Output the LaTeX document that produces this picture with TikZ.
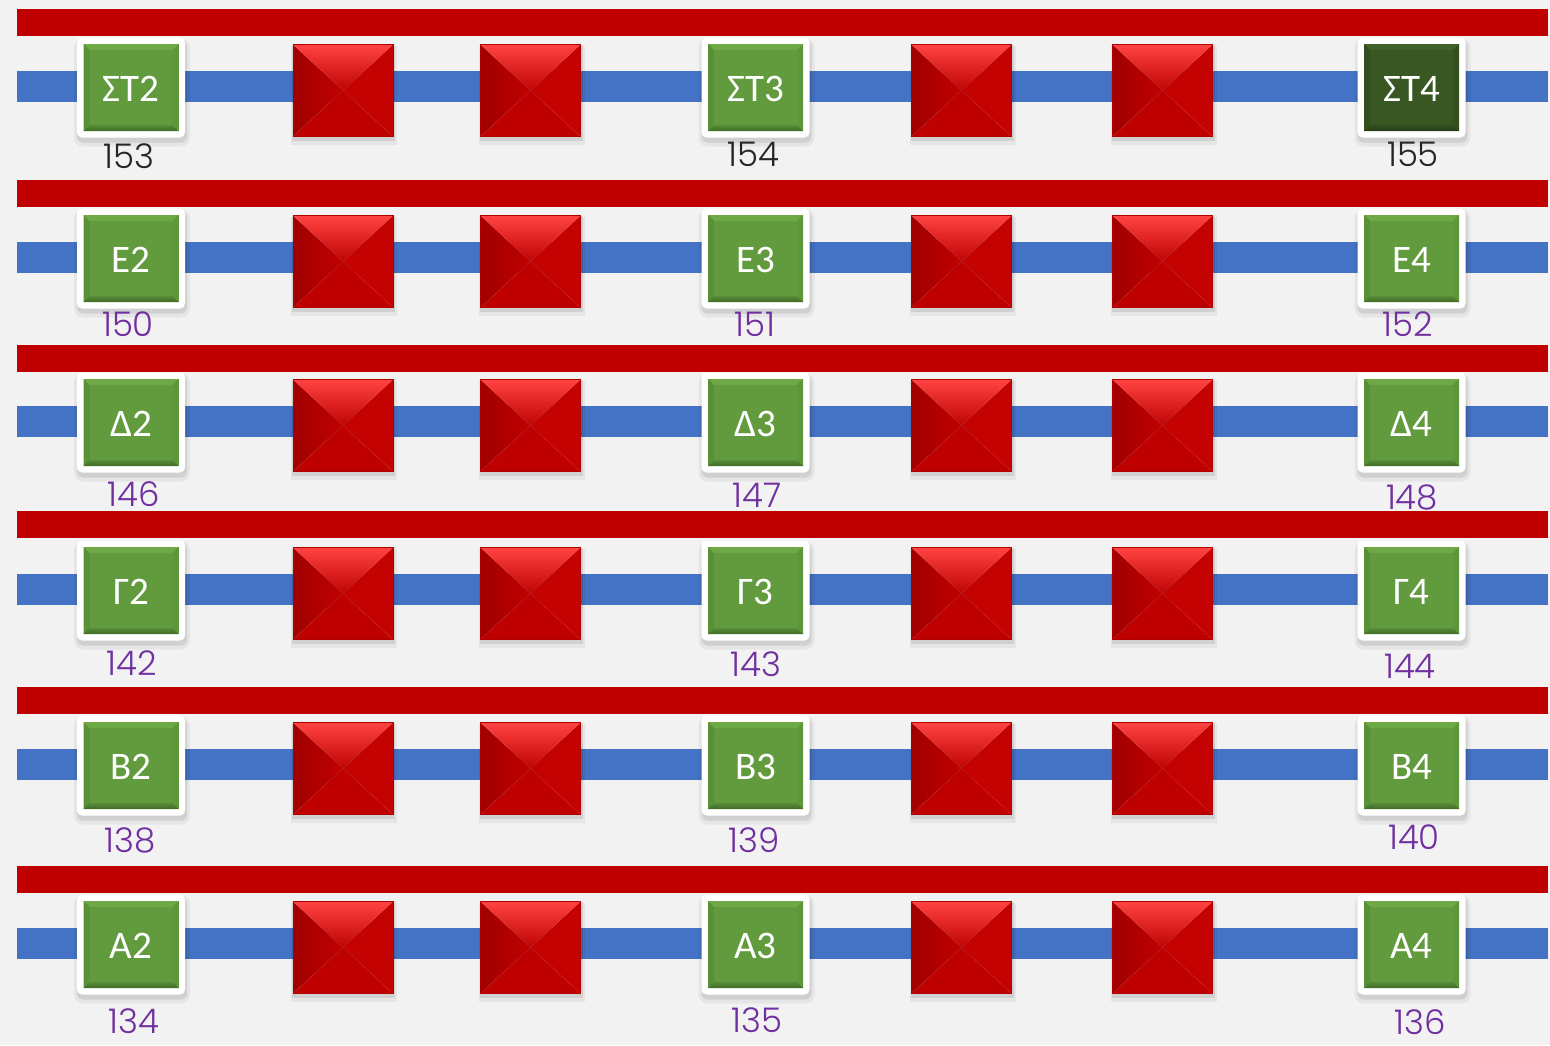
\documentclass[tikz,border=0pt]{standalone}
\usepackage{fontspec}
\setmainfont{Carlito}
\newfontfamily\numfont{Poppins Light}
\definecolor{bg}{HTML}{F2F2F2}
\definecolor{redbar}{HTML}{C00000}
\definecolor{bluebar}{HTML}{4472C4}
\definecolor{labA}{HTML}{262626}
\definecolor{labB}{HTML}{7030A0}
% green box bevel colours
\definecolor{gmain}{HTML}{629B3E}
\definecolor{gtop}{HTML}{6DAA45}
\definecolor{gleft}{HTML}{5A9138}
\definecolor{gright}{HTML}{5E963A}
\definecolor{gbot}{HTML}{3F6A27}
% dark green box
\definecolor{dmain}{HTML}{385723}
\definecolor{dtop}{HTML}{416329}
\definecolor{dleft}{HTML}{324F1F}
\definecolor{dright}{HTML}{354F20}
\definecolor{dbot}{HTML}{253B17}
% red squares
\definecolor{rtop1}{HTML}{FF4242}
\definecolor{rtopm}{HTML}{CA1414}
\definecolor{rtop2}{HTML}{BF0404}
\definecolor{rleft1}{HTML}{A00000}
\definecolor{rleftm}{HTML}{B90000}
\definecolor{rleft2}{HTML}{C10000}
\definecolor{rright}{HTML}{C40202}
\definecolor{rbot}{HTML}{BF0000}
\definecolor{rline}{HTML}{B00000}
\tikzset{
  boxtext/.style={text=white,font=\fontsize{39}{47}\selectfont,anchor=base,inner sep=0pt},
  numtext/.style={font=\numfont\fontsize{34}{40}\selectfont,anchor=base,inner sep=0pt},
  whitebox/.style={fill=white,rounded corners=5pt,minimum width=108pt,minimum height=100pt,inner sep=0pt}
}
% green box: name, x, y, text, colour prefix
\newcommand\gbox[5]{%
 \begin{scope}[shift={(#2,#3)}]
  \fill[black,opacity=0.05,rounded corners=9pt] (-57,-49) rectangle (59,59);
  \fill[black,opacity=0.09,rounded corners=6pt] (-54,-47) rectangle (56,55);
  \node[whitebox] (#1) at (0,0) {};
  \fill[#5main] (-47.5,-43.5) rectangle (47.5,43.5);
  \fill[#5top] (-47.5,-43.5) -- (47.5,-43.5) -- (41.5,-37.5) -- (-41.5,-37.5) -- cycle;
  \fill[#5left] (-47.5,-43.5) -- (-41.5,-37.5) -- (-41.5,37.5) -- (-47.5,43.5) -- cycle;
  \fill[#5right] (47.5,-43.5) -- (41.5,-37.5) -- (41.5,37.5) -- (47.5,43.5) -- cycle;
  \shade[top color=#5main!70!#5bot,bottom color=#5bot] (-47.5,43.5) -- (47.5,43.5) -- (41.5,37.5) -- (-41.5,37.5) -- cycle;
  \node[boxtext] (#1t) at (0,13.5) {#4};
 \end{scope}}
% red square: name, x, y
\newcommand\rsq[3]{%
 \begin{scope}[shift={(#2,#3)}]
  \fill[black,opacity=0.05] (-52,-45) rectangle (54,54);
  \fill[black,opacity=0.09] (-51,-46) rectangle (52,50);
  \node[minimum width=100pt,minimum height=92pt,inner sep=0pt] (#1) at (0,0) {};
  \fill[rbot] (-50,46) -- (50,46) -- (0,0) -- cycle;
  \fill[rright] (50,-46) -- (50,46) -- (0,0) -- cycle;
  \shade[left color=rleft1,middle color=rleftm,right color=rleft2] (-50,-46) -- (-50,46) -- (0,0) -- cycle;
  \shade[top color=rtop1,middle color=rtopm,bottom color=rtop2] (-50,-46) -- (50,-46) -- (0,0) -- cycle;
  \draw[white,opacity=0.06,line width=0.8pt] (-50,-46) -- (0,0) -- (50,-46) (-50,46) -- (0,0) -- (50,46);
  \draw[rline,line width=0.6pt] (-50,-46) rectangle (50,46);
 \end{scope}}
\begin{document}
\begin{tikzpicture}[x=1pt,y=-1pt]
\fill[bg] (0,0) rectangle (1550,1045);
\useasboundingbox (0,0) rectangle (1550,1045);
\foreach \rt/\bc/\L/\la/\lb/\lc/\ya/\yb/\yc/\xa/\xb/\xc/\lcol/\cc [count=\r] in {
  9/86/ΣΤ/153/154/155/168/166/166/129/753/1413/labA/d,
  180/257/Ε/150/151/152/336/336/336/128/755/1408/labB/g,
  345/421/Δ/146/147/148/506/507/509/134/757/1412/labB/g,
  511/589/Γ/142/143/144/675/676/678/132/756/1410/labB/g,
  687/764/Β/138/139/140/852/852/849/130/754/1414/labB/g,
  866/943/Α/134/135/136/1033/1032/1034/134/757/1420/labB/g}{
  \fill[redbar] (17,\rt) rectangle (1548,\rt+26.5);
  \fill[bluebar] (17,\bc-15) rectangle (1548,\bc+15.5);
  \gbox{b\r a}{131}{\bc+1.5}{\L2}{g}
  \gbox{b\r b}{755.5}{\bc+1.5}{\L3}{g}
  \gbox{b\r c}{1411.5}{\bc+1.5}{\L4}{\cc}
  \rsq{s\r a}{343}{\bc+4.5}
  \rsq{s\r b}{530.5}{\bc+4.5}
  \rsq{s\r c}{961.5}{\bc+4.5}
  \rsq{s\r d}{1162.5}{\bc+4.5}
  \node[numtext,text=\lcol] (n\r a) at (\xa,\ya) {\la};
  \node[numtext,text=\lcol] (n\r b) at (\xb,\yb) {\lb};
  \node[numtext,text=\lcol] (n\r c) at (\xc,\yc) {\lc};
}
\end{tikzpicture}
\end{document}
